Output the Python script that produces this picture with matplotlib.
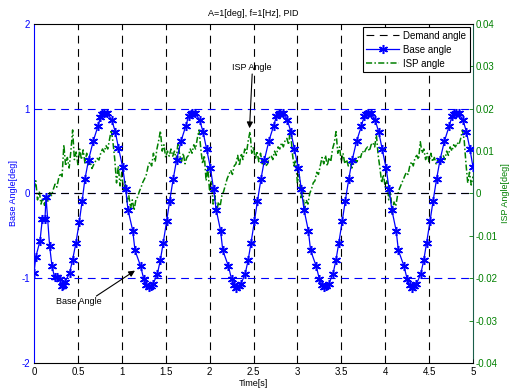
import numpy as np
import matplotlib
matplotlib.use("Agg")
import matplotlib.pyplot as plt

plt.rcParams['font.family'] = ['Liberation Sans', 'DejaVu Sans']
plt.rcParams['font.size'] = 7
plt.rcParams['axes.unicode_minus'] = False

# base angle samples (time [s], angle [deg])
base_t = [0.000, 0.020, 0.068, 0.095, 0.125, 0.137, 0.178, 0.205, 0.235, 0.265,
          0.295, 0.318, 0.335, 0.350, 0.405, 0.440, 0.478, 0.515, 0.548, 0.580,
          0.622, 0.675, 0.730, 0.755, 0.780, 0.800, 0.830, 0.885, 0.925, 0.962,
          1.010, 1.045, 1.070,
          1.125, 1.150, 1.215, 1.250, 1.280, 1.305, 1.330, 1.355, 1.405, 1.440,
          1.472, 1.510, 1.545, 1.585, 1.625, 1.675, 1.730, 1.760, 1.785, 1.805,
          1.835, 1.885, 1.925, 1.965, 2.010, 2.045, 2.075,
          2.125, 2.150, 2.215, 2.250, 2.280, 2.305, 2.330, 2.355, 2.405, 2.440,
          2.472, 2.510, 2.545, 2.585, 2.625, 2.675, 2.730, 2.760, 2.785, 2.805,
          2.835, 2.885, 2.925, 2.965, 3.010, 3.045, 3.075,
          3.125, 3.150, 3.215, 3.250, 3.280, 3.305, 3.330, 3.355, 3.405, 3.440,
          3.472, 3.510, 3.545, 3.585, 3.625, 3.675, 3.730, 3.760, 3.785, 3.805,
          3.835, 3.885, 3.925, 3.965, 4.010, 4.045, 4.075,
          4.125, 4.150, 4.215, 4.250, 4.280, 4.305, 4.330, 4.355, 4.405, 4.440,
          4.472, 4.510, 4.545, 4.585, 4.625, 4.675, 4.730, 4.760, 4.785, 4.805,
          4.835, 4.885, 4.925, 4.966, 5.000]
base_deg = [-0.94, -0.75, -0.56, -0.30, -0.30, -0.04, -0.62, -0.86, -0.99, -0.99,
            -1.01, -1.09, -1.08, -1.05, -0.94, -0.78, -0.58, -0.34, -0.09, 0.17,
            0.40, 0.62, 0.80, 0.90, 0.94, 0.95, 0.95, 0.87, 0.73, 0.54,
            0.31, 0.05, -0.19,
            -0.44, -0.67, -0.86, -1.01, -1.08, -1.10, -1.09, -1.07, -0.95, -0.78,
            -0.58, -0.33, -0.09, 0.17, 0.40, 0.62, 0.80, 0.91, 0.94, 0.95,
            0.95, 0.87, 0.73, 0.53, 0.30, 0.05, -0.19,
            -0.44, -0.67, -0.86, -1.01, -1.08, -1.11, -1.09, -1.07, -0.95, -0.78,
            -0.58, -0.33, -0.09, 0.17, 0.40, 0.62, 0.80, 0.91, 0.94, 0.95,
            0.95, 0.87, 0.73, 0.53, 0.30, 0.05, -0.19,
            -0.44, -0.67, -0.86, -1.01, -1.08, -1.10, -1.09, -1.07, -0.95, -0.78,
            -0.58, -0.33, -0.09, 0.17, 0.40, 0.62, 0.80, 0.91, 0.94, 0.95,
            0.95, 0.87, 0.73, 0.53, 0.30, 0.05, -0.19,
            -0.44, -0.67, -0.86, -1.01, -1.08, -1.11, -1.09, -1.07, -0.95, -0.78,
            -0.58, -0.33, -0.09, 0.17, 0.40, 0.62, 0.80, 0.91, 0.94, 0.95,
            0.95, 0.87, 0.73, 0.52, 0.31]

# demand angle
demand_t = [0.0, 5.0]
demand_deg = [0.0, 0.0]

# ISP angle, 1e-3 deg, one value every 0.02 s
isp_milli = [
    1.0, 3.0, -1.5, 0.5, -2.5, -1.0, -2.8, -0.5, -1.8, 0.2,
    -0.5, 1.0, 2.2, 1.5, 3.5, 4.8, 4.0, 11.5, 6.5, 8.5,
    6.0, 10.0, 15.0, 8.0, 9.8, 6.8, 10.5, 8.0, 10.3, 7.2,
    9.5, 6.8, 7.5, 5.9, 6.8, 7.6, 8.3, 7.9, 9.5, 10.5,
    9.8, 11.3, 10.5, 12.7, 15.0, 12.0, 8.0, 2.5, 6.5, 1.8,
    5.0, 0.5, 2.8, -2.0, -0.5, -3.5, -1.5, -4.0, -1.5, -0.8,
    0.5, 1.5, 2.7, 3.5, 4.5, 6.5, 7.5, 6.5, 9.5, 7.5,
    10.5, 12.5, 14.8, 10.0, 11.5, 8.5, 10.0, 8.8, 10.5, 8.8,
    10.0, 8.0, 12.0, 9.0, 7.5, 9.5, 7.0, 8.5, 9.0, 10.5,
    9.5, 11.5, 10.5, 13.0, 15.0, 10.5, 7.0, 9.0, 3.0, 6.0,
    0.5, 3.0, -2.5, -0.5, -4.7, -2.0, -3.0, -0.5, 0.5, 2.0,
    3.5, 4.5, 5.5, 4.5, 6.5, 7.0, 9.0, 6.5, 9.5, 8.0,
    10.5, 9.5, 12.5, 14.6, 9.5, 11.0, 8.0, 10.0, 7.5, 9.5,
    7.0, 8.0, 6.5, 7.0, 8.5, 9.0, 8.0, 10.0, 9.0, 11.0,
    10.5, 12.0, 11.0, 12.5, 13.0, 11.5, 15.4, 10.0, 6.5, 8.0,
    2.5, 4.5, -1.0, 1.5, -4.3, -1.5, -2.5, 0.0, 1.0, 2.5,
    3.0, 5.0, 4.5, 6.5, 8.5, 7.0, 9.0, 6.5, 8.5, 7.5,
    10.5, 12.0, 14.6, 9.5, 11.0, 7.5, 9.5, 7.0, 8.0, 6.5,
    7.5, 6.0, 7.0, 8.0, 7.5, 9.0, 8.5, 10.0, 9.5, 10.5,
    11.0, 10.0, 11.5, 12.0, 11.0, 13.8, 9.0, 6.0, 2.5, 4.5,
    1.5, 3.0, -1.5, 0.5, -4.7, -2.0, -3.0, -0.5, 1.0, 2.0,
    3.0, 4.0, 5.0, 4.5, 6.5, 7.5, 6.5, 8.5, 9.0, 8.0,
    12.2, 9.5, 10.5, 8.0, 9.5, 7.5, 9.5, 7.5, 8.5, 7.0,
    8.0, 7.5, 8.5, 9.0, 8.0, 10.0, 9.0, 11.0, 10.0, 11.5,
    11.0, 12.0, 11.5, 13.0, 15.0, 12.5, 7.0, 2.5, 5.0, 2.0,
    4.0]
isp_t = np.linspace(0, 5, len(isp_milli))
isp_deg = np.array(isp_milli) / 1000.0

x_ticks = np.arange(0, 5.01, 0.5)
x_labels = ['0', '0.5', '1', '1.5', '2', '2.5', '3', '3.5', '4', '4.5', '5']
left_ticks = [-2, -1, 0, 1, 2]
right_ticks = [-0.04, -0.03, -0.02, -0.01, 0, 0.01, 0.02, 0.03, 0.04]
right_labels = ['-0.04', '-0.03', '-0.02', '-0.01', '0', '0.01', '0.02', '0.03', '0.04']

blue = (0, 0, 1)
green = (0, 0.5, 0)
dash = (0, (7, 5))

fig = plt.figure(figsize=(5.09, 3.92), dpi=100)
ax = fig.add_axes([34 / 509, 1 - 363 / 392, 439 / 509, 339 / 392])
ax2 = ax.twinx()

# grid (vertical black, horizontal blue)
for xv in x_ticks[1:-1]:
    ax.axvline(xv, color='k', lw=0.8, ls=dash, zorder=1)
for yv in [-1, 0, 1]:
    ax.axhline(yv, color=blue, lw=0.8, ls=dash, zorder=1)

l1, = ax.plot(demand_t, demand_deg, color='k', lw=0.8, ls=dash, label='Demand angle', zorder=2)
l2, = ax.plot(base_t, base_deg, color=blue, lw=0.9, marker=(6, 2, 0), ms=6.5, mew=1.1,
              label='Base angle', zorder=4)
l3, = ax2.plot(isp_t, isp_deg, color=green, lw=1.1, ls=(0, (4, 1.5, 1, 1.5)),
               label='ISP angle', zorder=3)

ax.set_xlim(0, 5)
ax.set_ylim(-2, 2)
ax2.set_ylim(-0.04, 0.04)
ax.set_xticks(x_ticks)
ax.set_xticklabels(x_labels)
ax.set_yticks(left_ticks)
ax2.set_yticks(right_ticks)
ax2.set_yticklabels(right_labels)

ax.tick_params(axis='x', direction='in', length=3, width=0.6, colors='k', pad=3, labelsize=7)
ax.tick_params(axis='y', direction='in', length=3, width=0.6, colors=blue, pad=3, labelsize=7)
ax2.tick_params(axis='y', direction='in', length=3, width=0.6, colors=green, pad=2, labelsize=7)

ax.spines['left'].set_color(blue)
ax.spines['right'].set_visible(False)
ax2.spines['right'].set_color('#1a5e4a')
ax2.spines['left'].set_visible(False)
for s in ['top', 'bottom']:
    ax.spines[s].set_color('k')
    ax2.spines[s].set_visible(False)
for a in (ax, ax2):
    for s in a.spines.values():
        s.set_linewidth(0.8)
ax.set_zorder(ax2.get_zorder() + 1)
ax.patch.set_visible(False)

ax.set_title('A=1[deg], f=1[Hz], PID', fontsize=6.5, pad=6)
ax.set_xlabel('Time[s]', fontsize=6.5, labelpad=1)
ax.set_ylabel('Base Angle[deg]', fontsize=6.5, color=blue, labelpad=2)
ax2.set_ylabel('ISP Angle[deg]', fontsize=6.5, color=green, labelpad=2)

# annotations
ax.text(2.48, 1.49, 'ISP Angle', fontsize=6.5, ha='center', va='center')
ax.annotate('', xy=(2.455, 0.77), xytext=(2.485, 1.41),
            arrowprops=dict(arrowstyle='-|>', color='k', lw=0.8, mutation_scale=9,
                            shrinkA=0, shrinkB=0))
ax.text(0.51, -1.27, 'Base Angle', fontsize=6.5, ha='center', va='center')
ax.annotate('', xy=(1.15, -0.91), xytext=(0.71, -1.21),
            arrowprops=dict(arrowstyle='-|>', color='k', lw=0.8, mutation_scale=9,
                            shrinkA=0, shrinkB=0))

leg = ax.legend(handles=[l1, l2, l3], loc='upper right', fontsize=7, numpoints=1,
                handlelength=3.4, fancybox=False, edgecolor='k', framealpha=1,
                borderaxespad=0.35, handletextpad=0.4, labelspacing=0.4,
                borderpad=0.35)
leg.get_frame().set_linewidth(0.8)

fig.savefig('out.png', dpi=100)
